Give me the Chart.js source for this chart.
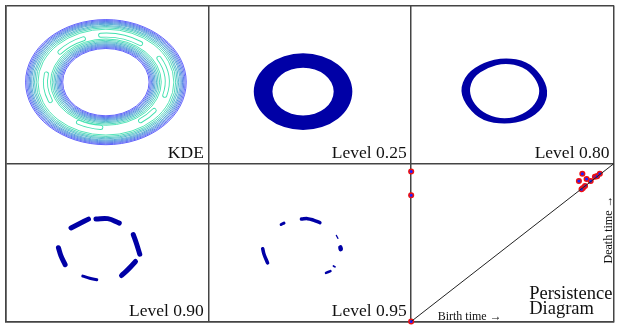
<!DOCTYPE html>
<html lang="en">
<head>
<meta charset="UTF-8" />
<title>KDE level sets and persistence diagram</title>
<script src="https://cdn.jsdelivr.net/npm/chart.js"></script>
<style>
  html, body { margin: 0; padding: 0; background: #fff; }
  #wrap { width: 623px; height: 327px; }
</style>
</head>
<body>
<div id="wrap"><canvas id="fig" width="623" height="327"></canvas></div>
<script>
  // every panel uses local units 0..100 (u to the right, v upwards)
  // KDE panel: contour radii from the outer edge inwards and from the hole outwards
  const kdeCenter = [49.5, 51.5];
  const kdeOuterRadii = [39.6, 39.0, 38.4, 37.8, 37.2, 36.6, 35.9, 35.2, 34.4, 33.5];
  const kdeInnerRadii = [21.3, 21.9, 22.5, 23.1, 23.7, 24.3, 25.0, 25.7, 26.5, 27.3];
  // top-level islands on the ridge (angles in degrees)
  const islandFrom = [112, 55, -16, -55, -118, 170];
  const islandTo = [140, 95, 30, -37, -95, 203];
  const islandRadius = [29.6, 29.8, 30.2, 29.8, 28.8, 29.8];

  // Level 0.25 : plain annulus
  const ring25Center = [46.7, 45.5];
  const ring25Radii = [15.1, 24.3];

  // Level 0.80 : thin uneven annulus, radii every 30 degrees
  const ring80Center = [46.2, 45.8];
  const ring80Outer = [21.6, 20.8, 21.8, 21.4, 21.0, 22.0, 22.3, 21.2, 21.8, 21.0, 21.6, 21.9];
  const ring80Inner = [17.6, 17.2, 17.9, 17.8, 17.2, 17.9, 17.8, 17.4, 17.6, 17.9, 17.4, 17.3];

  // Level 0.90 : pieces of the ring
  const level90Pieces = [
    [[32.3, 59.2], [36.6, 62.0], [40.9, 64.8]],
    [[44.6, 64.8], [50.4, 65.1], [56.1, 62.3]],
    [[63.0, 55.0], [64.6, 49.2], [66.2, 42.6]],
    [[64.1, 38.0], [60.7, 33.3], [57.2, 29.1]],
    [[38.1, 28.7], [41.5, 27.4], [45.0, 26.4]],
    [[26.1, 46.7], [27.3, 41.7], [29.4, 36.0]]
  ];
  const level90Widths = [5, 5, 5, 5, 3, 5];

  // Level 0.95 : smaller pieces
  const level95Pieces = [
    [[35.9, 61.4], [37.3, 62.3]],
    [[45.9, 64.8], [48.9, 65.1], [51.8, 64.2], [55.0, 62.6]],
    [[63.1, 54.5], [63.9, 52.6]],
    [[65.1, 46.9], [65.3, 45.8]],
    [[61.7, 35.1], [62.4, 34.6]],
    [[58.0, 30.8], [60.2, 31.9]],
    [[26.8, 46.1], [27.5, 42.4], [29.2, 37.1]]
  ];
  const level95Widths = [3, 3.5, 1.2, 4.5, 1.8, 2.5, 3.5];

  // persistence diagram (birth, death)
  const birthTimes = [84.4, 86.5, 82.7, 88.5, 90.6, 91.7, 93.0, 85.7, 84.7, 84.0, 0, 0, 0];
  const deathTimes = [93.5, 90.2, 88.9, 88.9, 91.6, 92.0, 93.5, 85.8, 84.5, 83.7, 94.9, 79.9, 0];

  const panelLabels = ['KDE', 'Level 0.25', 'Level 0.80', 'Level 0.90', 'Level 0.95'];

  const BLUE = '#0000a6';

  // offset of a panel in the global 300 x 200 space
  function gx(col, u) { return col * 100 + u; }
  function gy(row, v) { return (row === 0 ? 100 : 0) + v; }

  const datasets = [];

  function addPieces(pieces, widths, col) {
    pieces.forEach((p, i) => {
      datasets.push({
        data: p.map(([u, v]) => ({ x: gx(col, u), y: gy(1, v) })),
        showLine: true,
        borderColor: BLUE,
        borderWidth: widths[i],
        borderCapStyle: 'round',
        borderJoinStyle: 'round',
        tension: 0.4,
        pointRadius: 0
      });
    });
  }
  addPieces(level90Pieces, level90Widths, 0);
  addPieces(level95Pieces, level95Widths, 1);

  // diagonal of the persistence diagram
  datasets.push({
    data: [{ x: 200, y: 0 }, { x: 300, y: 100 }],
    showLine: true,
    borderColor: '#222',
    borderWidth: 1,
    pointRadius: 0
  });
  datasets.push({
    data: birthTimes.map((b, i) => ({ x: 200 + b, y: deathTimes[i] })),
    showLine: false,
    pointRadius: 2.3,
    pointBackgroundColor: '#2020ff',
    pointBorderColor: '#ee1111',
    pointBorderWidth: 1.5,
    clip: false
  });

  function kdeColor(i, n) {
    const t = i / (n - 1);
    return `rgb(${Math.round(80 - 15 * t)}, ${Math.round(80 + 145 * t)}, ${Math.round(250 - 75 * t)})`;
  }

  const shapes = {
    id: 'shapes',
    beforeDatasetsDraw(chart) {
      const { ctx, chartArea, scales: { x, y } } = chart;
      const sx = (x.getPixelForValue(100) - x.getPixelForValue(0)) / 100;
      const sy = (y.getPixelForValue(0) - y.getPixelForValue(100)) / 100;
      const px = (col, u) => x.getPixelForValue(gx(col, u));
      const py = (row, v) => y.getPixelForValue(gy(row, v));
      ctx.save();
      ctx.beginPath();
      ctx.rect(chartArea.left, chartArea.top, chartArea.right - chartArea.left, chartArea.bottom - chartArea.top);
      ctx.clip();

      // KDE contours
      const kx = px(0, kdeCenter[0]), ky = py(0, kdeCenter[1]);
      ctx.lineWidth = 0.9;
      [kdeOuterRadii, kdeInnerRadii].forEach(radii => {
        radii.forEach((r, i) => {
          ctx.strokeStyle = kdeColor(i, radii.length);
          ctx.beginPath();
          ctx.ellipse(kx, ky, r * sx, r * sy, 0, 0, Math.PI * 2);
          ctx.stroke();
        });
      });
      ctx.lineCap = 'round';
      islandFrom.forEach((a0, i) => {
        const a1 = islandTo[i], r = islandRadius[i];
        const d2r = Math.PI / 180;
        ctx.beginPath();
        ctx.ellipse(kx, ky, r * sx, r * sy, 0, -a1 * d2r, -a0 * d2r);
        ctx.strokeStyle = kdeColor(9, 10);
        ctx.lineWidth = 5;
        ctx.stroke();
        ctx.strokeStyle = '#fff';
        ctx.lineWidth = 3.2;
        ctx.stroke();
      });

      // Level 0.25
      ctx.fillStyle = BLUE;
      const c25x = px(1, ring25Center[0]), c25y = py(0, ring25Center[1]);
      ctx.beginPath();
      ctx.ellipse(c25x, c25y, ring25Radii[1] * sx, ring25Radii[1] * sy, 0, 0, Math.PI * 2);
      ctx.ellipse(c25x, c25y, ring25Radii[0] * sx, ring25Radii[0] * sy, 0, 0, Math.PI * 2);
      ctx.fill('evenodd');

      // Level 0.80
      const c80x = px(2, ring80Center[0]), c80y = py(0, ring80Center[1]);
      ctx.beginPath();
      [ring80Outer, ring80Inner].forEach(radii => {
        const pts = radii.map((r, k) => {
          const a = k * 30 * Math.PI / 180;
          return [c80x + r * sx * Math.cos(a), c80y - r * sy * Math.sin(a)];
        });
        const n = pts.length;
        const mid = (p, q) => [(p[0] + q[0]) / 2, (p[1] + q[1]) / 2];
        const start = mid(pts[n - 1], pts[0]);
        ctx.moveTo(start[0], start[1]);
        for (let i = 0; i < n; i++) {
          const m = mid(pts[i], pts[(i + 1) % n]);
          ctx.quadraticCurveTo(pts[i][0], pts[i][1], m[0], m[1]);
        }
        ctx.closePath();
      });
      ctx.fill('evenodd');
      ctx.restore();
    },
    afterDraw(chart) {
      const { ctx, scales: { x, y } } = chart;
      ctx.save();
      ctx.fillStyle = '#111';
      ctx.font = '17.5px "Liberation Serif", serif';
      ctx.textAlign = 'right';
      ctx.textBaseline = 'alphabetic';
      panelLabels.forEach((t, i) => {
        const col = i % 3, row = Math.floor(i / 3);
        ctx.fillText(t, x.getPixelForValue(col * 100 + 100) - 4.5, y.getPixelForValue(gy(row, 0)) - 5.5);
      });
      const left = x.getPixelForValue(200), right = x.getPixelForValue(300), bottom = y.getPixelForValue(0);
      ctx.textAlign = 'left';
      ctx.font = '18.5px "Liberation Serif", serif';
      ctx.fillText('Persistence', left + 118, bottom - 23);
      ctx.fillText('Diagram', left + 118, bottom - 8);
      ctx.font = '12px "Liberation Serif", serif';
      ctx.fillText('Birth time \u2192', left + 26.5, bottom - 2);
      ctx.translate(right - 2.5, bottom - 58);
      ctx.rotate(-Math.PI / 2);
      ctx.fillText('Death time \u2192', 0, 0);
      ctx.restore();
    }
  };

  new Chart(document.getElementById('fig'), {
    type: 'scatter',
    data: { datasets: datasets },
    options: {
      responsive: false,
      animation: false,
      layout: { padding: { left: 3, top: 4, right: 9, bottom: 2 } },
      plugins: { legend: { display: false }, tooltip: { enabled: false } },
      scales: {
        x: {
          type: 'linear', min: 0, max: 300,
          ticks: { display: false, stepSize: 100 },
          grid: { color: '#444', lineWidth: 1.5, drawTicks: false },
          border: { display: true, color: '#444', width: 1.5 }
        },
        y: {
          type: 'linear', min: 0, max: 200,
          ticks: { display: false, stepSize: 100 },
          grid: { color: '#444', lineWidth: 1.5, drawTicks: false },
          border: { display: true, color: '#444', width: 1.5 }
        }
      }
    },
    plugins: [shapes]
  });
</script>
</body>
</html>
